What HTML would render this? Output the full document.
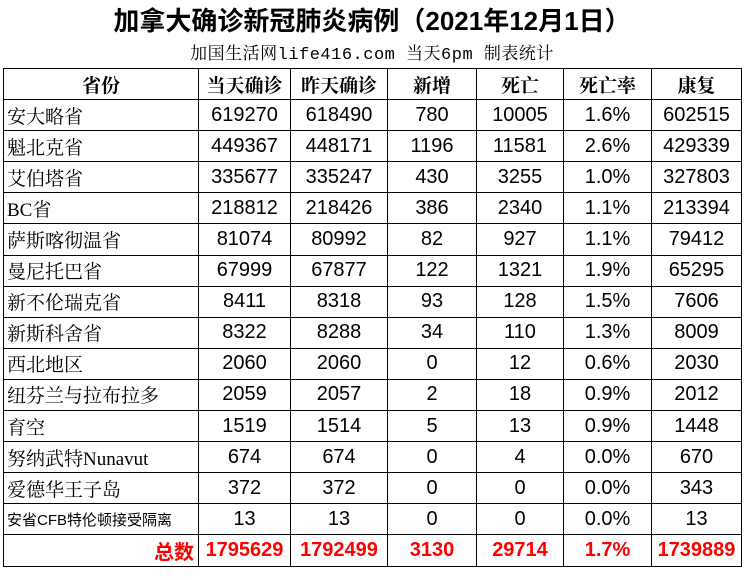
<!DOCTYPE html>
<html><head><meta charset="utf-8"><style>
body{margin:0;width:744px;height:580px;background:#fff;position:relative;overflow:hidden}
.t{position:absolute;left:0;width:744px;text-align:center;top:1px;font:bold 26px "Liberation Sans","Noto Sans CJK SC",sans-serif;color:#000}
.s{position:absolute;left:0;width:744px;text-align:center;top:39px;font:17px "Liberation Mono","Noto Serif CJK SC",monospace;color:#000;letter-spacing:0.5px}
table{position:absolute;left:3px;top:68px;border-collapse:collapse;table-layout:fixed}
td{border:1.5px solid #000;height:30.1px;padding:0;text-align:center;font:20px "Liberation Sans","Noto Sans CJK SC",sans-serif;color:#000;white-space:nowrap;overflow:hidden}
td.p{text-align:left;padding-left:3px;font-family:"Liberation Serif","Noto Serif CJK SC",serif;font-size:19px}
tr.h td{font:bold 19px "Liberation Serif","Noto Serif CJK SC",serif}
tr.z td{color:#f00;font-weight:bold}
td.sm{font-size:15px;font-family:"Liberation Sans","Noto Sans CJK SC",sans-serif}
</style></head><body>
<div class="t">加拿大确诊新冠肺炎病例（2021年12月1日）</div>
<div class="s">加国生活网life416.com 当天6pm 制表统计</div>
<table>
<colgroup><col style="width:195px"><col style="width:92px"><col style="width:97px"><col style="width:89px"><col style="width:87px"><col style="width:88px"><col style="width:90px"></colgroup>
<tr class="h"><td>省份</td><td>当天确诊</td><td>昨天确诊</td><td>新增</td><td>死亡</td><td>死亡率</td><td>康复</td></tr>
<tr><td class="p">安大略省</td><td>619270</td><td>618490</td><td>780</td><td>10005</td><td>1.6%</td><td>602515</td></tr>
<tr><td class="p">魁北克省</td><td>449367</td><td>448171</td><td>1196</td><td>11581</td><td>2.6%</td><td>429339</td></tr>
<tr><td class="p">艾伯塔省</td><td>335677</td><td>335247</td><td>430</td><td>3255</td><td>1.0%</td><td>327803</td></tr>
<tr><td class="p">BC省</td><td>218812</td><td>218426</td><td>386</td><td>2340</td><td>1.1%</td><td>213394</td></tr>
<tr><td class="p">萨斯喀彻温省</td><td>81074</td><td>80992</td><td>82</td><td>927</td><td>1.1%</td><td>79412</td></tr>
<tr><td class="p">曼尼托巴省</td><td>67999</td><td>67877</td><td>122</td><td>1321</td><td>1.9%</td><td>65295</td></tr>
<tr><td class="p">新不伦瑞克省</td><td>8411</td><td>8318</td><td>93</td><td>128</td><td>1.5%</td><td>7606</td></tr>
<tr><td class="p">新斯科舍省</td><td>8322</td><td>8288</td><td>34</td><td>110</td><td>1.3%</td><td>8009</td></tr>
<tr><td class="p">西北地区</td><td>2060</td><td>2060</td><td>0</td><td>12</td><td>0.6%</td><td>2030</td></tr>
<tr><td class="p">纽芬兰与拉布拉多</td><td>2059</td><td>2057</td><td>2</td><td>18</td><td>0.9%</td><td>2012</td></tr>
<tr><td class="p">育空</td><td>1519</td><td>1514</td><td>5</td><td>13</td><td>0.9%</td><td>1448</td></tr>
<tr><td class="p">努纳武特Nunavut</td><td>674</td><td>674</td><td>0</td><td>4</td><td>0.0%</td><td>670</td></tr>
<tr><td class="p">爱德华王子岛</td><td>372</td><td>372</td><td>0</td><td>0</td><td>0.0%</td><td>343</td></tr>
<tr><td class="p sm">安省CFB特伦顿接受隔离</td><td>13</td><td>13</td><td>0</td><td>0</td><td>0.0%</td><td>13</td></tr>
<tr class="z"><td style="text-align:right;padding-right:4px">总数</td><td>1795629</td><td>1792499</td><td>3130</td><td>29714</td><td>1.7%</td><td>1739889</td></tr>
</table>
</body></html>
